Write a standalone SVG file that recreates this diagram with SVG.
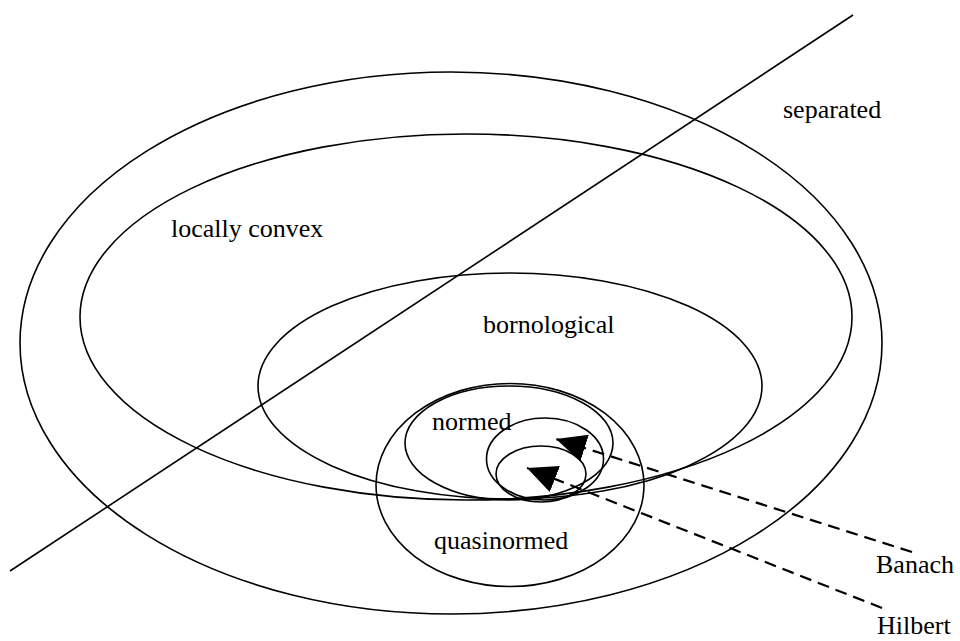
<svg xmlns="http://www.w3.org/2000/svg" width="960" height="641" viewBox="0 0 960 641">
<style>
.sh{fill:none;stroke:#000;stroke-width:1.6}
.lb{font-family:"Liberation Serif","Times New Roman",serif;font-size:26px;fill:#000}
.cn{fill:none;stroke:#000;stroke-width:2.2;stroke-dasharray:12 7}
</style>
<defs>
<marker id="ah" markerUnits="userSpaceOnUse" markerWidth="32" markerHeight="30" refX="30" refY="14" orient="auto">
<path d="M0,0 L30,14 L0,28 z" fill="#000"/>
</marker>
</defs>
<rect width="960" height="641" fill="#fff"/>
<g id="separated">
<ellipse class="sh" cx="451" cy="343" rx="431" ry="271"/>
<text class="lb" x="783" y="118">separated</text>
</g>
<g id="locally-convex">
<ellipse class="sh" cx="466" cy="317" rx="386" ry="183"/>
<text class="lb" x="171" y="237">locally convex</text>
</g>
<g id="bornological">
<ellipse class="sh" cx="510" cy="386" rx="252" ry="113"/>
<text class="lb" x="483" y="333">bornological</text>
</g>
<g id="quasinormed">
<ellipse class="sh" cx="510" cy="485" rx="134" ry="101.5"/>
<text class="lb" x="434" y="549">quasinormed</text>
</g>
<g id="normed">
<ellipse class="sh" cx="509" cy="443" rx="104" ry="57"/>
<text class="lb" x="432" y="430">normed</text>
</g>
<g id="banach-set">
<ellipse class="sh" cx="545" cy="459" rx="58.5" ry="41"/>
</g>
<g id="hilbert-set">
<ellipse class="sh" cx="541" cy="474" rx="45" ry="28"/>
</g>
<line class="sh" x1="853" y1="15" x2="10" y2="571"/>
<g id="Banach">
<text class="lb" x="876" y="573">Banach</text>
</g>
<g id="Hilbert">
<text class="lb" x="877" y="634" font-size="25">Hilbert</text>
</g>
<g id="connectors">
<path class="cn" d="M912,552 L556,439" marker-end="url(#ah)"/>
<path class="cn" d="M882,608 L527,468" marker-end="url(#ah)"/>
</g>
</svg>
